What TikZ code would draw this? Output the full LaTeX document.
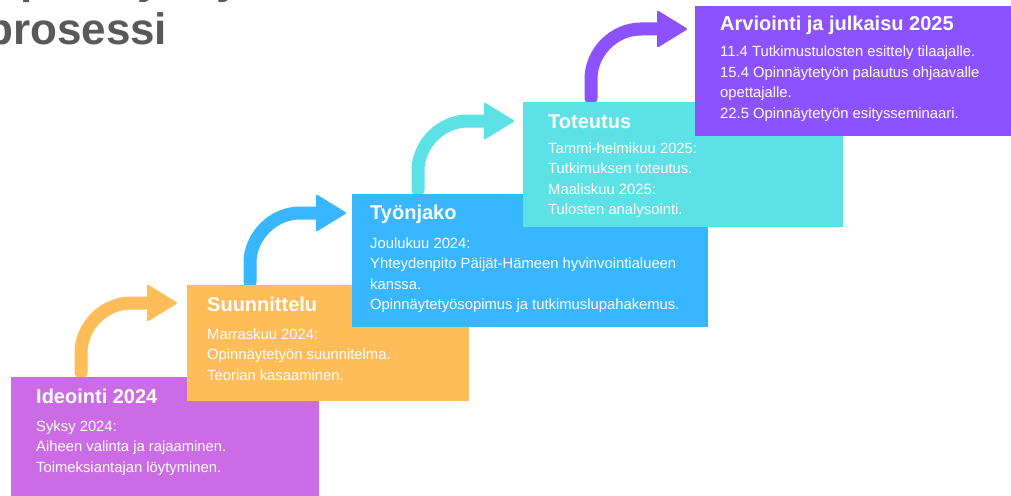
\documentclass[tikz,border=0pt]{standalone}
\usepackage{fontspec}
\setmainfont{Liberation Sans}
\definecolor{cpurple}{HTML}{CB6CE6}
\definecolor{corange}{HTML}{FFBD59}
\definecolor{cblue}{HTML}{38B6FF}
\definecolor{ccyan}{HTML}{5CE1E6}
\definecolor{cviolet}{HTML}{8C52FF}
\definecolor{cgray}{HTML}{595959}
\newcommand\stairarrow[3]{%
  \draw[line width=13pt, line cap=round, #1] (#2,#3) -- (#2,#3-19)
    .. controls (#2,#3-46) and (#2+23,#3-69) .. (#2+50,#3-69) -- (#2+72,#3-69);
  \fill[#1, rounded corners=2pt] (#2+66,#3-88) -- (#2+97,#3-69) -- (#2+66,#3-50) -- cycle;
}
\tikzset{
  box/.style={rectangle, draw=none, inner sep=0pt, anchor=north west},
  ttl/.style={anchor=base west, inner sep=0pt, text=white, font=\fontsize{20}{24}\selectfont\bfseries},
  bdy/.style={anchor=base west, inner sep=0pt, text=white, align=left, font=\fontsize{14.8}{20.5}\selectfont},
}
\begin{document}
\begin{tikzpicture}[x=1pt,y=-1pt]
\clip (0,0) rectangle (1011,495);
\fill[white] (0,0) rectangle (1011,495);
% heading (cut off)
\node[anchor=base west, inner sep=0pt, text=cgray, font=\fontsize{44}{50}\selectfont\bfseries] (h1) at (-14,-6.5) {Opinnäytetyön};
\node[anchor=base west, inner sep=0pt, text=cgray, font=\fontsize{44}{50}\selectfont\bfseries] (h2) at (-14,45) {prosessi};
% arrows
\coordinate (a1s) at (81,372);
\coordinate (a2s) at (250,282);
\coordinate (a3s) at (418,190);
\coordinate (a4s) at (591,98);
\stairarrow{corange}{81}{372}
\stairarrow{cblue}{250}{282}
\stairarrow{ccyan}{418}{190}
\stairarrow{cviolet}{591}{98}
% boxes
\fill[cpurple] (11,377) rectangle (319,500);
\node[box, minimum width=308pt, minimum height=118pt] (b1) at (11,377) {};
\node[ttl] (t1) at (36,403) {Ideointi 2024};
\node[bdy] (d1) at (36,472) {Syksy 2024:\\Aiheen valinta ja rajaaminen.\\Toimeksiantajan löytyminen.};
\fill[corange] (187,285) rectangle (469,401);
\node[box, minimum width=282pt, minimum height=116pt] (b2) at (187,285) {};
\node[ttl] (t2) at (207,311) {Suunnittelu};
\node[bdy] (d2) at (207,380) {Marraskuu 2024:\\Opinnäytetyön suunnitelma.\\Teorian kasaaminen.};
\fill[cblue] (352,194) rectangle (708,327);
\node[box, minimum width=356pt, minimum height=133pt] (b3) at (352,194) {};
\node[ttl] (t3) at (370,219) {Työnjako};
\node[bdy] (d3) at (370,309.5) {Joulukuu 2024:\\Yhteydenpito Päijät-Hämeen hyvinvointialueen\\kanssa.\\Opinnäytetyösopimus ja tutkimuslupahakemus.};
\fill[ccyan] (523,102) rectangle (843,227);
\node[box, minimum width=320pt, minimum height=125pt] (b4) at (523,102) {};
\node[ttl] (t4) at (548,128) {Toteutus};
\node[bdy] (d4) at (548,214.5) {Tammi-helmikuu 2025:\\Tutkimuksen toteutus.\\Maaliskuu 2025:\\Tulosten analysointi.};
\fill[cviolet] (695,6) rectangle (1015,136);
\node[box, minimum width=320pt, minimum height=130pt] (b5) at (695,6) {};
\node[ttl] (t5) at (720,31) {Arviointi ja julkaisu 2025};
\node[bdy] (d5) at (720,118) {11.4 Tutkimustulosten esittely tilaajalle.\\15.4 Opinnäytetyön palautus ohjaavalle\\opettajalle.\\22.5 Opinnäytetyön esitysseminaari.};
\end{tikzpicture}
\end{document}
